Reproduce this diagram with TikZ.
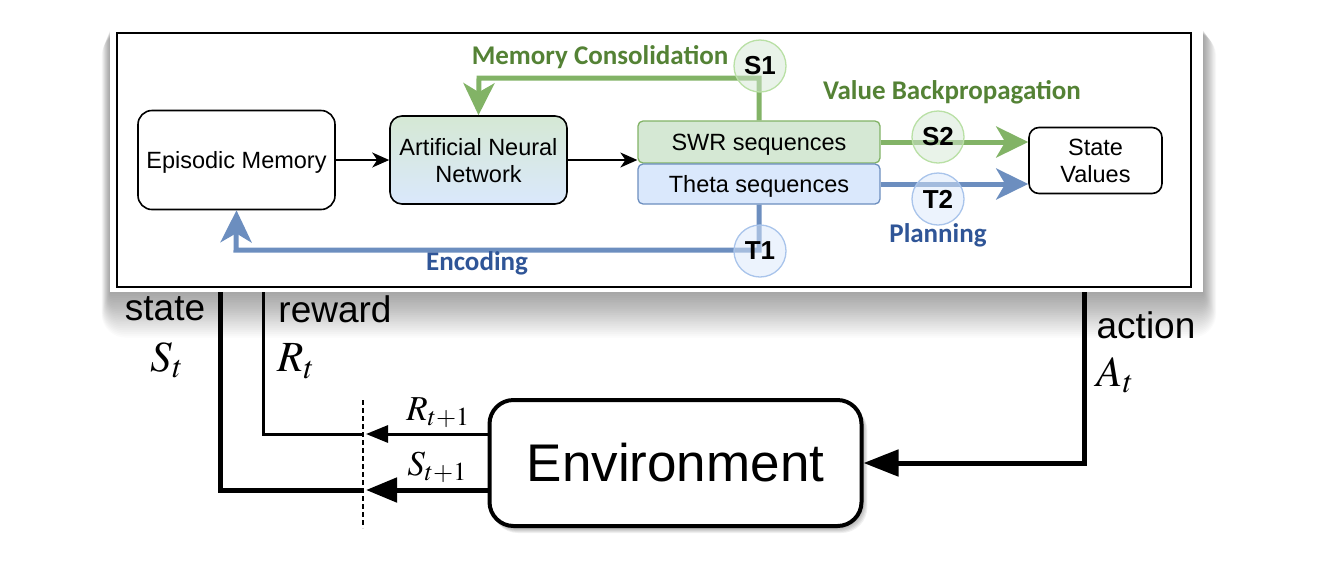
\documentclass[tikz,border=0pt]{standalone}
\usepackage{mathptmx}
\usepackage{fontspec}
\setmainfont{Liberation Sans}
\newfontfamily\calib{Carlito}
\usetikzlibrary{arrows.meta}
\definecolor{gline}{HTML}{82B366}
\definecolor{bline}{HTML}{6C8EBF}
\definecolor{gfill}{HTML}{D5E8D4}
\definecolor{bfill}{HTML}{DAE8FC}
\definecolor{gtext}{HTML}{548235}
\definecolor{btext}{HTML}{2F5597}
\definecolor{scirc}{HTML}{B9E0A5}
\definecolor{tcirc}{HTML}{A9C4EB}
\begin{document}
\begin{tikzpicture}[x=1pt,y=-1pt,
  lbl/.style={font=\fontsize{23.5}{27}\selectfont, align=center, inner sep=0pt, text depth=0pt},
  box/.style={lbl, draw=black, line width=1.6pt, rounded corners=14pt},
  seqbox/.style={lbl, rounded corners=5pt, line width=1.3pt, minimum width=242pt},
  greenpath/.style={draw=gline, line width=5pt},
  bluepath/.style={draw=bline, line width=5pt},
  bigtip/.style={-{Stealth[length=32pt,width=31pt,inset=9pt]}},
  thin/.style={draw=black, line width=1.4pt, -{Stealth[length=17pt,width=15pt,inset=5pt]}},
  circ/.style={circle, minimum size=52pt, inner sep=0pt, line width=1.3pt, fill opacity=0.5, text opacity=1, font=\bfseries\fontsize{26}{28}\selectfont},
  gword/.style={font=\calib\bfseries\fontsize{27}{30}\selectfont, text=gtext, inner sep=0pt},
  bword/.style={font=\calib\bfseries\fontsize{27}{30}\selectfont, text=btext, inner sep=0pt},
  biglbl/.style={font=\fontsize{37}{40}\selectfont, inner sep=0pt},
  mathlbl/.style={font=\fontsize{43}{46}\selectfont, inner sep=0pt},
  smallmath/.style={font=\fontsize{35}{38}\selectfont, inner sep=0pt},
]
\useasboundingbox (0,0) rectangle (1321,563);
\fill[white] (0,0) rectangle (1321,563);

% ---------- panel shadow ----------
\foreach \i in {1,...,24} {
  \fill[black, opacity=0.017, rounded corners=\i pt]
    (110-0.35*\i, 30+0.1*\i) rectangle (1203+0.55*\i, 292+1.9*\i);
}
\fill[white] (110,28) rectangle (1203,292);
\draw[black, line width=1.5pt] (117,33) rectangle (1191,287);

% ---------- panel nodes ----------
\node[box, minimum width=197pt, minimum height=99pt] (em) at (236.5,160) {Episodic Memory};
\node[box, minimum width=177pt, minimum height=88pt, top color=gfill, bottom color=bfill, rounded corners=12pt] (ann) at (478.5,160) {Artificial Neural\\Network};
\node[seqbox, draw=gline, fill=gfill, minimum height=42pt] (swr) at (759,142) {SWR sequences};
\node[seqbox, draw=bline, fill=bfill, minimum height=40pt] (theta) at (759,184) {Theta sequences};
\node[box, minimum width=133pt, minimum height=66pt, rounded corners=10pt] (sv) at (1095.5,160.5) {State\\Values};

% ---------- panel connectors ----------
\draw[thin] (em.east) -- (ann.west);
\draw[thin] (ann.east) -- (swr.west |- ann.east);

\coordinate (gc) at (479,78);
\draw[greenpath, bigtip] (swr.north) |- (gc) -- (ann.north);
\coordinate (bc) at (236,250);
\draw[bluepath, bigtip] (theta.south) |- (bc) -- (em.south);
\draw[greenpath, bigtip] (swr.east) -- (sv.west |- swr.east);
\draw[bluepath, bigtip] (theta.east) -- (sv.west |- theta.east);

% ---------- circles ----------
\node[circ, draw=scirc, fill=gfill] (s1) at (760,66) {S1};
\node[circ, draw=scirc, fill=gfill] (s2) at (938,137) {S2};
\node[circ, draw=tcirc, fill=bfill] (t2) at (938,199) {T2};
\node[circ, draw=tcirc, fill=bfill] (t1) at (760,251) {T1};

% ---------- panel words ----------
\node[gword] (mc) at (600,57) {Memory Consolidation};
\node[gword] (vb) at (952,92) {Value Backpropagation};
\node[bword] (pl) at (938,235) {Planning};
\node[bword] (enc) at (477,263) {Encoding};

% ---------- environment ----------
\foreach \i in {1,...,6} {
  \fill[black, opacity=0.06, rounded corners=26pt]
    (489+0.5*\i, 400+0.8*\i) rectangle (862+0.9*\i, 527+1.0*\i);
}
\node[draw=black, fill=white, line width=4pt, rounded corners=24pt, minimum width=372pt, minimum height=126pt, font=\fontsize{53}{56}\selectfont] (env) at (675.5,463) {Environment};

% ---------- loop connectors ----------
\coordinate (stop) at (220,292);
\coordinate (rtop) at (263,292);
\coordinate (atop) at (1084,292);
\coordinate (send) at (362,490);
\coordinate (rend) at (362,434);
\coordinate (stip) at (366,490);
\coordinate (rtip) at (366,434);
\coordinate (dtop) at (363,400);
\coordinate (dbot) at (363,528);

\draw[line width=5pt] (stop) |- (send);
\draw[line width=3pt] (rtop) |- (rend);
\draw[line width=5pt, -{Triangle[length=31pt,width=24pt]}] (env.west |- stip) -- (stip);
\draw[line width=3pt, -{Triangle[length=22pt,width=17pt]}] (env.west |- rtip) -- (rtip);
\draw[line width=5pt, -{Triangle[length=35pt,width=26pt]}] (atop) |- (env.east);
\draw[line width=1.3pt, dash pattern=on 5pt off 3pt] (dtop) -- (dbot);

% ---------- loop labels ----------
\node[biglbl] (lstate) at (165,309) {state};
\node[mathlbl] (lst) at (167,360) {$S_t$};
\node[biglbl] (lreward) at (335,309) {reward};
\node[mathlbl] (lrt) at (296,361) {$R_t$};
\node[smallmath] (lrt1) at (438,413) {$R_{t+1}$};
\node[smallmath] (lst1) at (437,467) {$S_{t+1}$};
\node[biglbl] (laction) at (1146,325) {action};
\node[mathlbl] (lat) at (1115,375) {$A_t$};
\end{tikzpicture}
\end{document}
